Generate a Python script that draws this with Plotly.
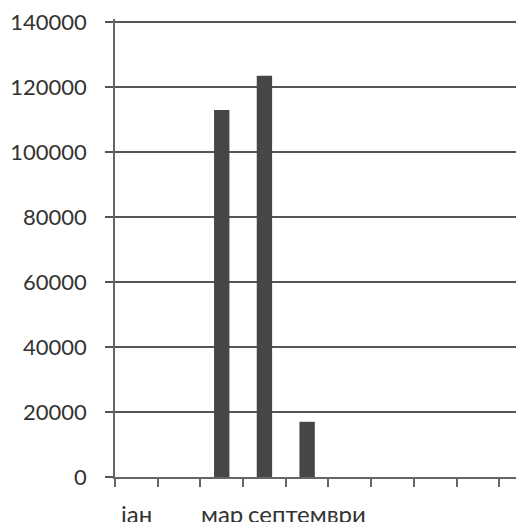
import plotly.graph_objects as go

categories = ["јан", "фев", "мар", "јун", "септември", "окт", "ное", "дек", "", ""]
values = [0, 0, 113000, 123500, 17000, 0, 0, 0, 0, 0]
shown = [True, False, True, False, True, False, False, False, False, False]
y_ticks = [0, 20000, 40000, 60000, 80000, 100000, 120000, 140000]

idx = list(range(len(categories)))

fig = go.Figure()
fig.add_trace(go.Bar(
    x=idx, y=values,
    marker=dict(color="#464646", line=dict(width=0)),
))

for i, (txt, s) in enumerate(zip(categories, shown)):
    if s:
        fig.add_annotation(
            x=i, y=0, xref="x", yref="paper", text=txt, showarrow=False,
            yanchor="middle", yshift=-36, xanchor="center",
            font=dict(family="Lato", size=24, color="#333333"),
        )

# page body adds an 8px offset; figure sized to fill the 524x522 window
fig.update_layout(
    width=516, height=514,
    margin=dict(l=107, r=0, t=9, b=45),
    paper_bgcolor="white", plot_bgcolor="white",
    bargap=0.64, showlegend=False,
    font=dict(family="Lato", size=22, color="#333333"),
)
fig.update_xaxes(
    range=[-0.5, 9.08], tickmode="linear", tick0=-0.5, dtick=1,
    showticklabels=False,
    ticks="outside", ticklen=8, tickwidth=1.5, tickcolor="#666666",
    showline=True, linecolor="#666666", linewidth=1.5,
    showgrid=False, zeroline=False,
)
fig.update_yaxes(
    range=[0, 141000], tickvals=y_ticks, ticktext=[str(v) for v in y_ticks],
    ticklabeloverflow="allow",
    ticks="outside", ticklen=8, tickwidth=1.5, tickcolor="#555555",
    showgrid=True, gridcolor="#555555", gridwidth=1.5,
    showline=True, linecolor="#666666", linewidth=1.5,
    zeroline=False, ticklabelstandoff=14,
)

fig.write_html("out.html")
